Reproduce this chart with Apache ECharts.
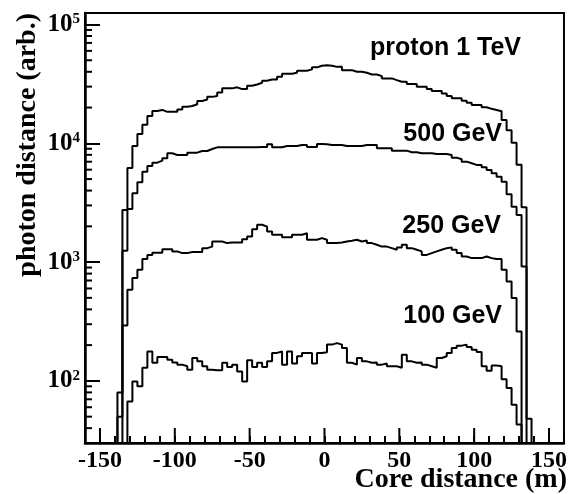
<!DOCTYPE html>
<html><head><meta charset="utf-8">
<script src="https://cdn.jsdelivr.net/npm/echarts@6/dist/echarts.min.js"></script>
<style>html,body{margin:0;padding:0;background:#fff}#c{width:570px;height:494px}</style>
</head><body><div id="c"></div>
<script>
// Histogram bins: width 10/3 m, bin j centred at j*binWidth, first bin j = -41
const binWidth = 10 / 3;
const firstBin = -41;

const tev1 = [80, 2750, 6200, 9500, 12000, 14300, 17000, 18700, 19100, 18400, 18400, 18400, 19300, 20300, 20600, 21300, 22700, 23400, 24600, 25000, 26800, 29000, 29000, 29600, 28600, 28600, 30500, 31300, 32300, 33600, 34500, 34500, 36300, 38500, 38500, 39200, 40800, 40800, 41900, 43600, 45000,
  45500,
  45000, 44000, 44000, 41300, 41300, 40000, 40000, 39200, 38000, 38000, 36800, 35200, 35200, 34000, 33000, 33000, 31500, 31500, 29900, 29900, 28600, 27500, 27500, 26300, 25000, 23900, 23900, 22800, 21900, 21000, 21000, 20100, 19500, 19100, 18600, 15700, 12900, 10100, 6600, 2900, 48];

const gev500 = [50, 1245, 2800, 3800, 4700, 5770, 6440, 6870, 7140, 7480, 8240, 7980, 7980, 7980, 8340, 8340, 8610, 8610, 8950, 9250, 9250, 9250, 9250, 9250, 9250, 9250, 9250, 9250, 9300, 9300, 9820, 9250, 9250, 9480, 9480, 9480, 9680, 9680, 9300, 9300, 9860,
  9820,
  9680, 9680, 9680, 9480, 9480, 9480, 9480, 9680, 9680, 9680, 9080, 9080, 9080, 8670, 8670, 8670, 8400, 8400, 8240, 8240, 8240, 8130, 8130, 8130, 7980, 7570, 7340, 7010, 6800, 6580, 6580, 6290, 5970, 5600, 5240, 4750, 3720, 2930, 2490, 920, 0];

const gev250 = [0, 292, 585, 735, 861, 1060, 1150, 1200, 1200, 1285, 1285, 1230, 1190, 1190, 1215, 1215, 1215, 1310, 1350, 1490, 1490, 1445, 1460, 1460, 1460, 1560, 1640, 1890, 2060, 1990, 1810, 1700, 1700, 1620, 1620, 1700, 1700, 1750, 1540, 1540, 1590,
  1540,
  1445, 1445, 1460, 1490, 1510, 1540, 1490, 1520, 1445, 1400, 1350, 1350, 1310, 1270, 1330, 1400, 1310, 1270, 1230, 1150, 1190, 1230, 1270, 1310, 1330, 1270, 1190, 1115, 1080, 1080, 1080, 1115, 1080, 1060, 1060, 861, 687, 498, 261, 0, 0];

const gev100 = [0, 0, 67, 99, 90, 129, 177, 142, 159, 159, 151, 143, 137, 133, 124, 156, 146, 133, 124, 123, 123, 142, 131, 137, 120, 99, 149, 131, 142, 131, 146, 172, 177, 137, 177, 140, 161, 172, 172, 140, 172,
  174,
  202, 208, 202, 189, 142, 137, 156, 146, 142, 143, 137, 140, 133, 133, 129, 166, 146, 142, 143, 137, 133, 129, 156, 161, 172, 189, 198, 202, 193, 183, 175, 133, 122, 135, 133, 103, 87, 63, 43, 0, 0];

const seriesNames = ['proton 1 TeV', '500 GeV', '250 GeV', '100 GeV'];
const xMajorTicks = [-150, -100, -50, 0, 50, 100, 150];
const yMinorTicks = [40, 50, 60, 70, 80, 90, 200, 300, 400, 500, 600, 700, 800, 900,
  2000, 3000, 4000, 5000, 6000, 7000, 8000, 9000, 20000, 30000, 40000, 50000, 60000, 70000, 80000, 90000];

function steps(vals) {
  const pts = [[(firstBin - 1.5) * binWidth, 1]];
  vals.forEach((v, i) => pts.push([(firstBin + i - 0.5) * binWidth, v > 0 ? v : 1]));
  pts.push([(firstBin + vals.length - 0.5) * binWidth, 1]);
  return pts;
}

const serif = '"Liberation Serif", "Times New Roman", serif';
const sans = '"Liberation Sans", Arial, sans-serif';

function histSeries(name, vals) {
  return {
    name: name, type: 'line', step: 'end', data: steps(vals), symbol: 'none',
    lineStyle: { color: '#000', width: 2 }, animation: false, silent: true, clip: true, z: 3
  };
}

const chart = echarts.init(document.getElementById('c'), null, { renderer: 'canvas' });
chart.setOption({
  animation: false,
  backgroundColor: '#fff',
  grid: { left: 85, top: 13, width: 482, height: 430, show: true, borderColor: '#000', borderWidth: 2, backgroundColor: 'transparent' },
  xAxis: {
    type: 'value', min: -160, max: 160, interval: 10,
    axisLine: { show: true, onZero: false, lineStyle: { color: '#000', width: 2.5 } },
    axisTick: { show: true, inside: true, length: 7, lineStyle: { color: '#000', width: 2 } },
    splitLine: { show: false },
    axisLabel: {
      margin: 6, color: '#000', fontFamily: serif, fontWeight: 'bold', fontSize: 24,
      formatter: v => (Math.round(v) % 50 === 0 && Math.abs(v) < 160) ? String(Math.round(v)) : ''
    }
  },
  yAxis: {
    type: 'log', logBase: 10, min: 30, max: 125000,
    axisLine: { show: true, onZero: false, lineStyle: { color: '#000', width: 2.5 } },
    axisTick: { show: true, inside: true, length: 15, lineStyle: { color: '#000', width: 2 } },
    splitLine: { show: false },
    minorTick: { show: false },
    axisLabel: {
      margin: 5, color: '#000',
      formatter: v => {
        const e = Math.log10(v);
        if (Math.abs(e - Math.round(e)) > 1e-6) return '';
        return '{b|10}{s|' + Math.round(e) + '}';
      },
      rich: {
        b: { fontFamily: serif, fontWeight: 'bold', fontSize: 25, color: '#000' },
        s: { fontFamily: serif, fontWeight: 'bold', fontSize: 15, color: '#000', verticalAlign: 'top' }
      }
    }
  },
  series: [
    histSeries(seriesNames[0], tev1),
    histSeries(seriesNames[1], gev500),
    histSeries(seriesNames[2], gev250),
    histSeries(seriesNames[3], gev100),
    {
      type: 'custom', silent: true, animation: false, clip: false, z: 5,
      data: yMinorTicks.map(v => [-160, v]),
      renderItem: (params, api) => {
        const p = api.coord([api.value(0), api.value(1)]);
        return { type: 'line', shape: { x1: p[0], y1: p[1], x2: p[0] + 7, y2: p[1] }, style: { stroke: '#000', lineWidth: 2 } };
      }
    },
    {
      type: 'custom', silent: true, animation: false, clip: false, z: 5,
      data: xMajorTicks.map(v => [v, 30]),
      renderItem: (params, api) => {
        const p = api.coord([api.value(0), api.value(1)]);
        return { type: 'line', shape: { x1: p[0], y1: p[1], x2: p[0], y2: p[1] - 15 }, style: { stroke: '#000', lineWidth: 2 } };
      }
    }
  ],
  graphic: [
    { type: 'text', x: 28, y: 13, rotation: Math.PI / 2, silent: true,
      style: { text: 'photon distance (arb.)', font: 'bold 28px ' + serif, fill: '#000', align: 'right', verticalAlign: 'middle', textAlign: 'right', textVerticalAlign: 'middle' } },
    { type: 'text', x: 567, y: 480, silent: true,
      style: { text: 'Core distance (m)', font: 'bold 28px ' + serif, fill: '#000', align: 'right', verticalAlign: 'middle', textAlign: 'right', textVerticalAlign: 'middle' } },
    { type: 'text', x: 521, y: 48.5, silent: true,
      style: { text: seriesNames[0], font: 'bold 25px ' + sans, fill: '#000', align: 'right', verticalAlign: 'middle', textAlign: 'right', textVerticalAlign: 'middle' } },
    { type: 'text', x: 502, y: 134, silent: true,
      style: { text: seriesNames[1], font: 'bold 25px ' + sans, fill: '#000', align: 'right', verticalAlign: 'middle', textAlign: 'right', textVerticalAlign: 'middle' } },
    { type: 'text', x: 501, y: 226.5, silent: true,
      style: { text: seriesNames[2], font: 'bold 25px ' + sans, fill: '#000', align: 'right', verticalAlign: 'middle', textAlign: 'right', textVerticalAlign: 'middle' } },
    { type: 'text', x: 502, y: 316.5, silent: true,
      style: { text: seriesNames[3], font: 'bold 25px ' + sans, fill: '#000', align: 'right', verticalAlign: 'middle', textAlign: 'right', textVerticalAlign: 'middle' } }
  ]
});
</script>
</body></html>
